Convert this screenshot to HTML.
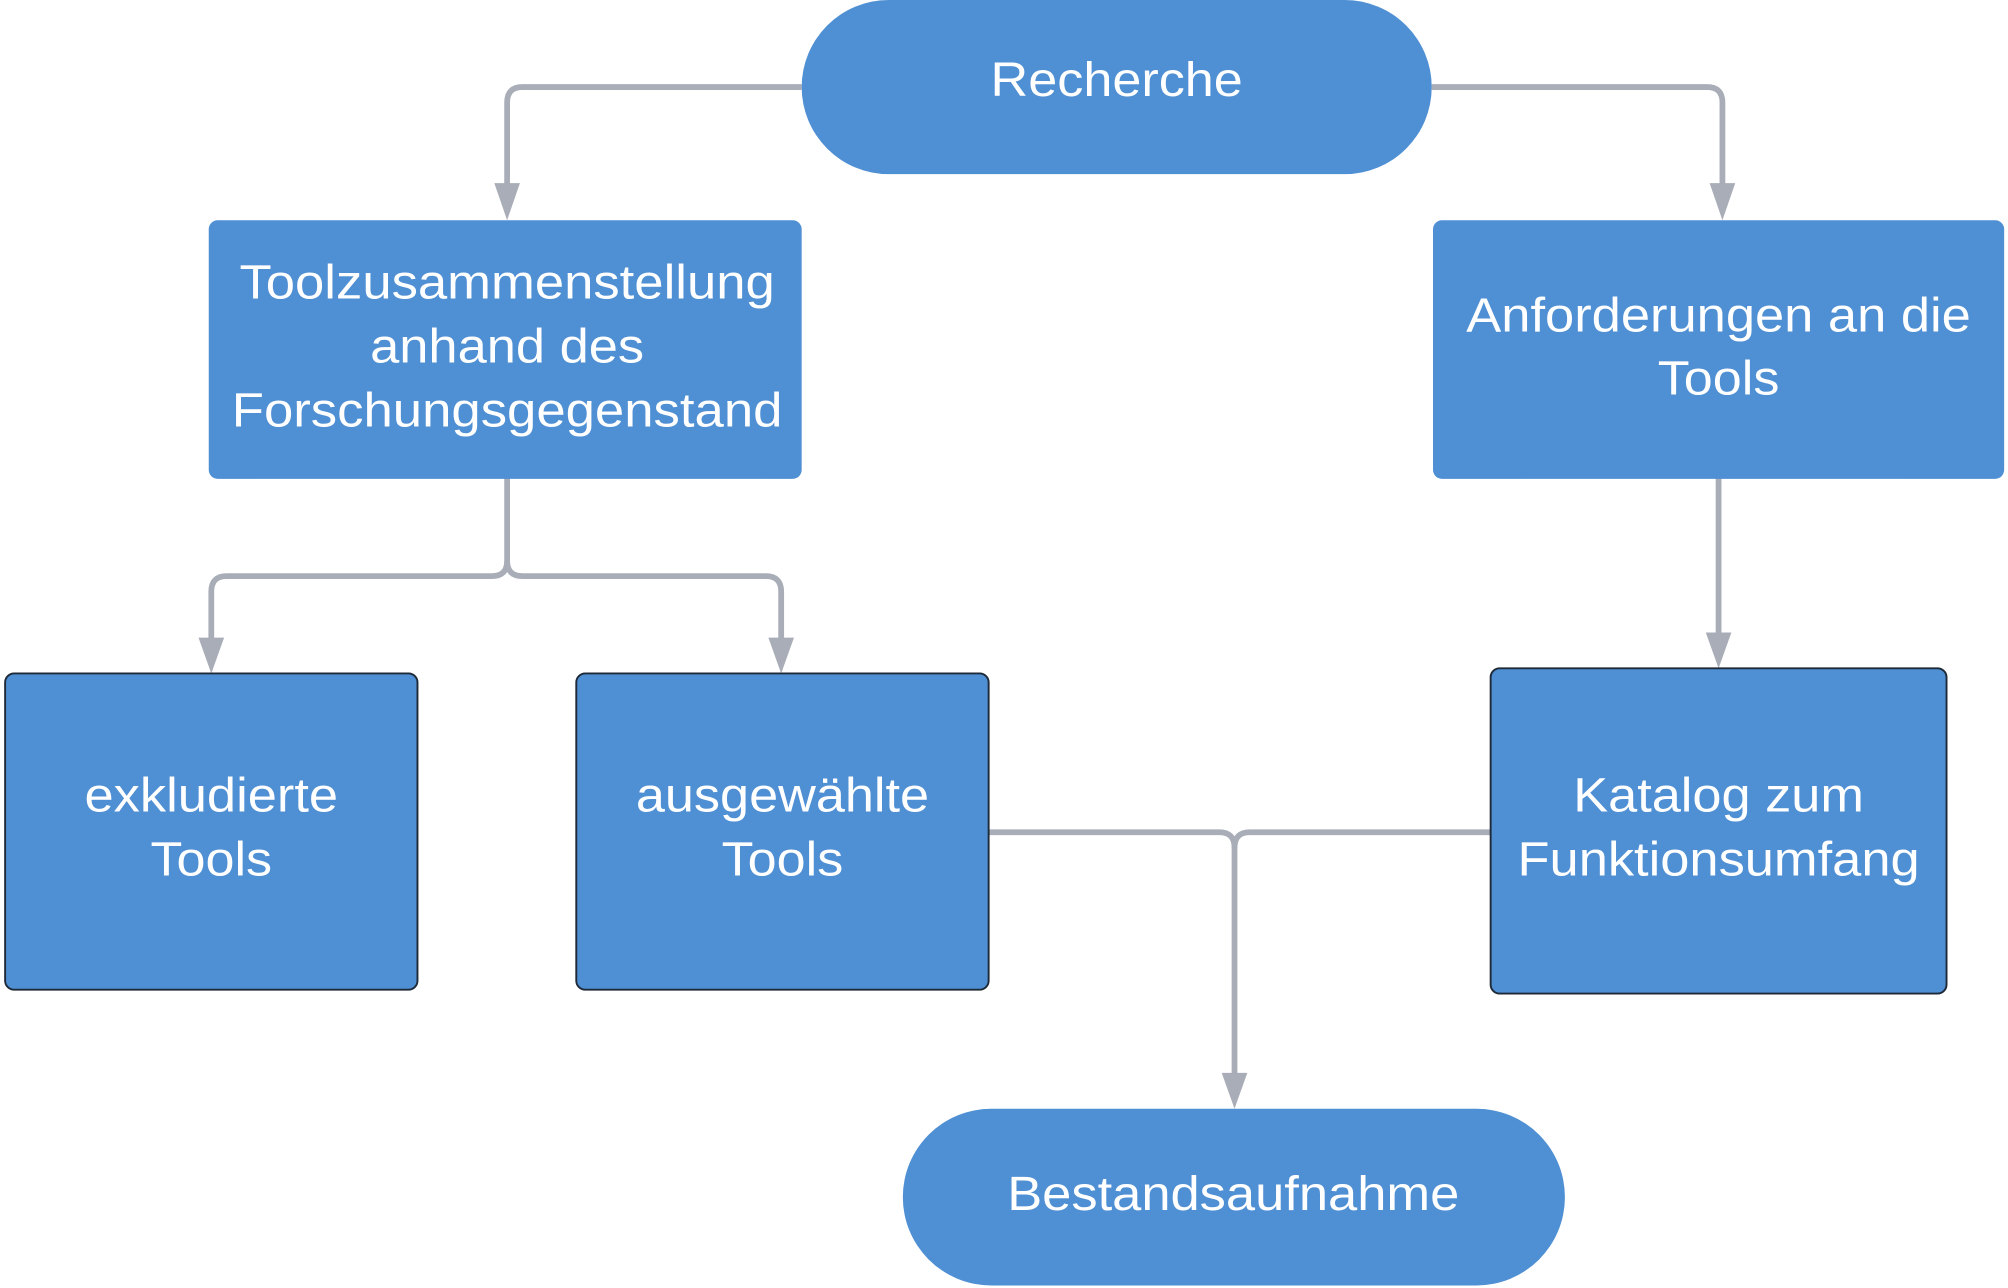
<!DOCTYPE html>
<html><head><meta charset="utf-8"><style>
html,body{margin:0;padding:0;background:#fff;}
svg{display:block;}
text{font-family:"Liberation Sans",sans-serif;fill:#fff;font-size:38px;text-anchor:middle;}
</style></head><body>
<svg width="2008" height="1288" viewBox="0 0 1568 1006" preserveAspectRatio="none" xmlns="http://www.w3.org/2000/svg">
<g fill="none" stroke="#a8adb7" stroke-width="4.5">
<path d="M626 68 H408 Q396 68 396 80 V150"/>
<path d="M1118 68 H1333 Q1345 68 1345 80 V150"/>
<path d="M396 372 V438 Q396 450 384 450 H177 Q165 450 165 462 V504"/>
<path d="M396 438 Q396 450 408 450 H598 Q610 450 610 462 V504"/>
<path d="M1342 372 V500"/>
<path d="M772 650 H952 Q964 650 964 662 V844"/>
<path d="M1164 650 H976 Q964 650 964 662"/>
</g>
<g fill="#a8adb7">
<polygon points="386,143 406,143 396,172"/>
<polygon points="1335,143 1355,143 1345,172"/>
<polygon points="155,498 175,498 165,526"/>
<polygon points="600,498 620,498 610,526"/>
<polygon points="1332,494 1352,494 1342,522"/>
<polygon points="954,838 974,838 964,866"/>
</g>
<g fill="#4f8fd4">
<rect x="626" y="0" width="492" height="136" rx="68"/>
<rect x="163" y="172" width="463" height="202" rx="7"/>
<rect x="1119" y="172" width="446" height="202" rx="7"/>
<rect x="705" y="866" width="517" height="138" rx="69"/>
</g>
<g fill="#4f8fd4" stroke="#1f2a38" stroke-width="1.5">
<rect x="4" y="526" width="322" height="247" rx="7"/>
<rect x="450" y="526" width="322" height="247" rx="7"/>
<rect x="1164" y="522" width="356" height="254" rx="7"/>
</g>
<g lengthAdjust="spacingAndGlyphs">
<text x="872" y="75" textLength="197" lengthAdjust="spacingAndGlyphs">Recherche</text>
<text x="396" y="233" textLength="418" lengthAdjust="spacingAndGlyphs">Toolzusammenstellung</text>
<text x="396" y="283" textLength="214" lengthAdjust="spacingAndGlyphs">anhand des</text>
<text x="396" y="333" textLength="430" lengthAdjust="spacingAndGlyphs">Forschungsgegenstand</text>
<text x="1342" y="259" textLength="394" lengthAdjust="spacingAndGlyphs">Anforderungen an die</text>
<text x="1342" y="308" textLength="95" lengthAdjust="spacingAndGlyphs">Tools</text>
<text x="165" y="634" textLength="198" lengthAdjust="spacingAndGlyphs">exkludierte</text>
<text x="165" y="684" textLength="95" lengthAdjust="spacingAndGlyphs">Tools</text>
<text x="611" y="634" textLength="229" lengthAdjust="spacingAndGlyphs">ausgewählte</text>
<text x="611" y="684" textLength="95" lengthAdjust="spacingAndGlyphs">Tools</text>
<text x="1342" y="634" textLength="227" lengthAdjust="spacingAndGlyphs">Katalog zum</text>
<text x="1342" y="684" textLength="314" lengthAdjust="spacingAndGlyphs">Funktionsumfang</text>
<text x="963" y="945" textLength="353" lengthAdjust="spacingAndGlyphs">Bestandsaufnahme</text>
</g>
</svg>
</body></html>
